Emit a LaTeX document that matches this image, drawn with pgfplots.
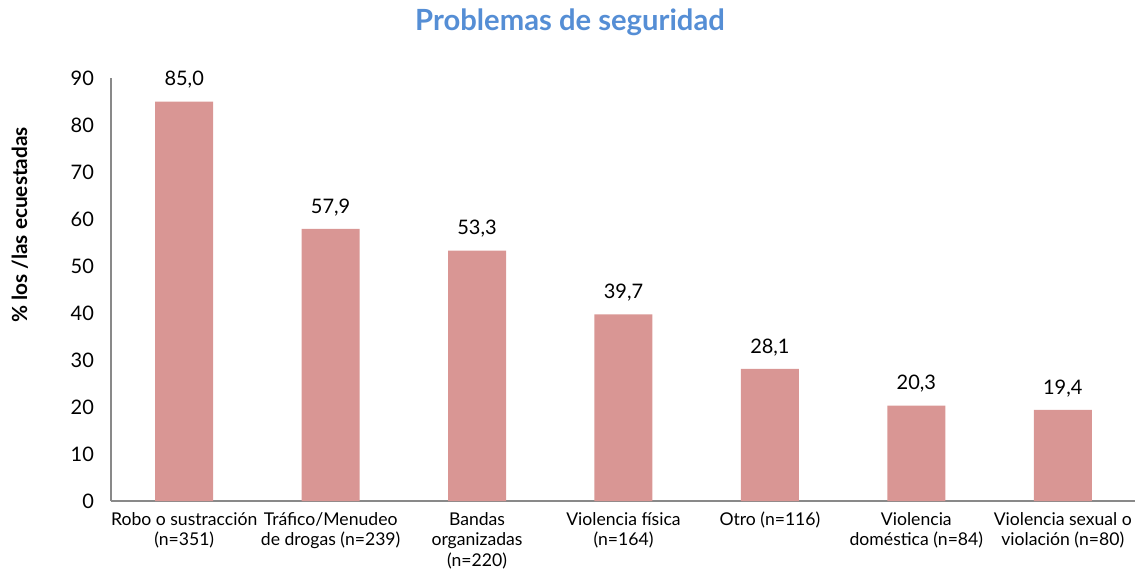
\documentclass[border=0pt]{standalone}
\usepackage{fontspec}
\setmainfont{Lato}
\usepackage{pgfplots}
\pgfplotsset{compat=1.18}
\definecolor{barcol}{HTML}{D99694}
\definecolor{titleblue}{HTML}{558ED5}
\definecolor{axisgray}{HTML}{898989}
\begin{document}
\begin{tikzpicture}
\begin{axis}[
    scale only axis,
    width=512.5pt, height=211.5pt,
    xmin=-0.5, xmax=6.5,
    ymin=0, ymax=90,
    ytick={0,10,...,90},
    xtick=data,
    xticklabels={{Robo o sustracción\\(n=351)},{Tráfico/Menudeo\\de drogas (n=239)},{Bandas\\organizadas\\(n=220)},{Violencia física\\(n=164)},{Otro (n=116)},{Violencia\\doméstica (n=84)},{Violencia sexual o\\violación (n=80)}},
    xticklabel style={align=center, font=\fontsize{8.8}{10.4}\selectfont, yshift=-2pt},
    yticklabel style={font=\fontsize{10}{12}\selectfont, xshift=-5pt},
    /pgf/number format/assume math mode=true,
    axis x line*=bottom, axis y line*=left,
    axis line style={axisgray, line width=0.8pt},
    major tick length=0pt,
    ybar, bar width=29pt,
    nodes near coords,
    nodes near coords style={font=\fontsize{10}{12}\selectfont, yshift=3pt,
        /pgf/number format/fixed, /pgf/number format/fixed zerofill,
        /pgf/number format/precision=1, /pgf/number format/use comma,
        /pgf/number format/assume math mode=true},
]
\addplot[fill=barcol, draw=none] coordinates {(0,85.0) (1,57.9) (2,53.3) (3,39.7) (4,28.1) (5,20.3) (6,19.4)};
\end{axis}
\node[font=\bfseries\fontsize{10.4}{12}\selectfont, rotate=90] at (-45.5pt,138pt) {\% los /las ecuestadas};
\node[font=\bfseries\fontsize{14.6}{16}\selectfont, text=titleblue] at (229.5pt,239.5pt) {Problemas de seguridad};
\pgfresetboundingbox
\useasboundingbox (-55.5pt,-37pt) rectangle (512pt,250.5pt);
\end{tikzpicture}
\end{document}
